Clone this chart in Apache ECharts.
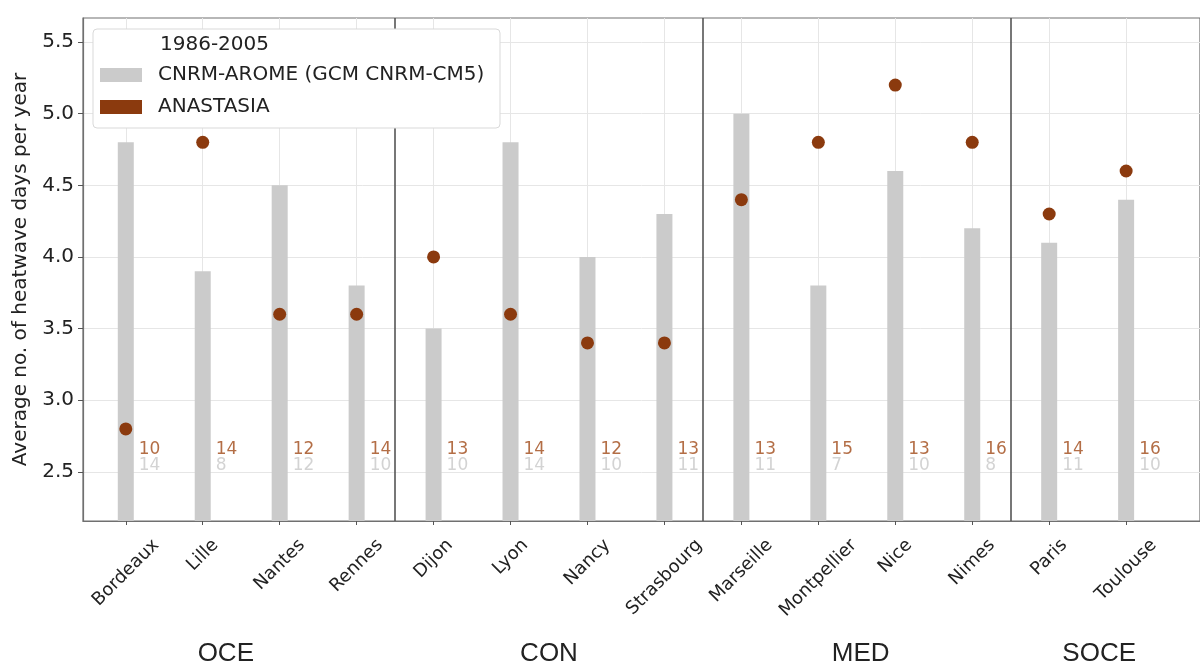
<!DOCTYPE html>
<html>
<head>
<meta charset="utf-8">
<script src="https://cdn.jsdelivr.net/npm/echarts@6/dist/echarts.min.js"></script>
<style>
html,body{margin:0;padding:0;background:#fff;}
#chart{width:1200px;height:668px;}
</style>
</head>
<body>
<div id="chart"></div>
<script>
// ---- data ----
const cities = ['Bordeaux','Lille','Nantes','Rennes','Dijon','Lyon','Nancy','Strasbourg','Marseille','Montpellier','Nice','Nimes','Paris','Toulouse'];
const cnrmValues = [4.8, 3.9, 4.5, 3.8, 3.5, 4.8, 4.0, 4.3, 5.0, 3.8, 4.6, 4.2, 4.1, 4.4];
const anastasiaValues = [2.8, 4.8, 3.6, 3.6, 4.0, 3.6, 3.4, 3.4, 4.4, 4.8, 5.2, 4.8, 4.3, 4.6];
const anastasiaCounts = [10, 14, 12, 14, 13, 14, 12, 13, 13, 15, 13, 16, 14, 16];
const cnrmCounts = [14, 8, 12, 10, 10, 14, 10, 11, 11, 7, 10, 8, 11, 10];
const groups = ['OCE', 'CON', 'MED', 'SOCE'];
const groupSizes = [4, 4, 4, 2];
const groupLabelPos = [1.3, 5.5, 9.55, 12.65];
const yTicks = [2.5, 3.0, 3.5, 4.0, 4.5, 5.0, 5.5];
const legendTitle = '1986-2005';
const nameCnrm = 'CNRM-AROME (GCM CNRM-CM5)';
const nameAna = 'ANASTASIA';
const yTitle = 'Average no. of heatwave days per year';

// ---- layout constants ----
const Y_MIN = 2.157, Y_MAX = 5.668;
const X_MIN = -0.556, X_MAX = 13.96;
const FONT = '"DejaVu Sans", sans-serif';
const BROWN = '#8b3a0e';
const GRAY = '#cbcbcb';

const idx = cities.map((c, i) => i);
const separators = [];
{ let acc = 0; for (let g = 0; g < groupSizes.length - 1; g++) { acc += groupSizes[g]; separators.push(acc - 0.5); } }

const mctx = document.createElement('canvas').getContext('2d');
function measure(t, font) { mctx.font = font; return mctx.measureText(t).width; }
const XL_SIZE = 18;
const XL_FONT = XL_SIZE + 'px "DejaVu Sans"';

const chart = echarts.init(document.getElementById('chart'), null, {renderer: 'canvas'});
chart.setOption({
  animation: false,
  backgroundColor: '#fff',
  grid: {left: 83, top: 18, right: -4, bottom: 147, show: true, borderColor: '#707070', borderWidth: 1.2},
  xAxis: {
    type: 'value', min: X_MIN, max: X_MAX,
    axisLine: {show: true, onZero: false, lineStyle: {color: '#707070', width: 1.2}},
    axisTick: {show: true, length: 4, customValues: idx, lineStyle: {color: '#555'}},
    axisLabel: {show: false, customValues: idx},
    splitLine: {show: true, lineStyle: {color: '#e6e6e6', width: 1}}
  },
  yAxis: {
    type: 'value', min: Y_MIN, max: Y_MAX,
    name: yTitle, nameLocation: 'middle', nameGap: 42,
    nameTextStyle: {fontFamily: FONT, fontSize: 20, color: '#222'},
    axisLine: {show: true, onZero: false, lineStyle: {color: '#707070', width: 1.2}},
    axisTick: {show: true, length: 5, customValues: yTicks, lineStyle: {color: '#555'}},
    axisLabel: {customValues: yTicks, fontFamily: FONT, fontSize: 20, color: '#222', margin: 9,
      formatter: v => v.toFixed(1)},
    splitLine: {show: true, lineStyle: {color: '#e6e6e6', width: 1}}
  },
  legend: {
    orient: 'vertical', left: 100, top: 65, padding: 0, itemGap: 12,
    itemWidth: 42, itemHeight: 14, z: 10,
    textStyle: {fontFamily: FONT, fontSize: 20, color: '#222', padding: [0, 0, 0, 11]},
    data: [{name: nameCnrm, icon: 'rect'}, {name: nameAna, icon: 'rect'}]
  },
  graphic: [
    {type: 'rect', z: 8, shape: {x: 93, y: 29, width: 407, height: 99, r: 4},
     style: {fill: '#fff', stroke: '#d9d9d9', lineWidth: 1}},
    {type: 'text', z: 9, x: 160, y: 45,
     style: {text: legendTitle, font: '20px ' + FONT, fill: '#222', align: 'left', verticalAlign: 'middle'}}
  ],
  series: [
    {
      name: nameCnrm, type: 'bar', barWidth: 16,
      itemStyle: {color: GRAY},
      data: cnrmValues.map((v, i) => [i, v]),
      markLine: {
        silent: true, symbol: 'none', label: {show: false},
        lineStyle: {color: '#555', width: 1.6, type: 'solid'},
        data: separators.map(s => ({xAxis: s}))
      },
      z: 2
    },
    {
      name: nameAna, type: 'scatter', symbolSize: 13,
      itemStyle: {color: BROWN, opacity: 1},
      data: anastasiaValues.map((v, i) => [i, v]),
      z: 4
    },
    {
      type: 'scatter', symbolSize: 0, silent: true, z: 5,
      data: anastasiaCounts.map((c, i) => [i, 2.654, c]),
      label: {show: true, position: 'right', distance: 13, formatter: p => p.value[2],
        fontFamily: FONT, fontSize: 17, color: '#a04a18'}
    },
    {
      type: 'scatter', symbolSize: 0, silent: true, z: 5,
      data: cnrmCounts.map((c, i) => [i, 2.545, c]),
      label: {show: true, position: 'right', distance: 13, formatter: p => p.value[2],
        fontFamily: FONT, fontSize: 17, color: '#c8c8c8'}
    },
    {
      type: 'custom', silent: true, clip: false, z: 6,
      data: cities.map((c, i) => [i, Y_MIN]),
      renderItem: (params, api) => {
        const i = api.value(0);
        const p = api.coord([i, Y_MIN]);
        const name = cities[i];
        const L = measure(name, XL_FONT);
        const h = XL_SIZE * 1.164;
        const cy = p[1] + 14 + (L + h) / (2 * Math.SQRT2);
        return {type: 'text', x: p[0], y: cy, rotation: Math.PI / 4,
          style: {text: name, font: XL_FONT, fill: '#222', align: 'center', verticalAlign: 'middle'}};
      }
    },
    {
      type: 'custom', silent: true, clip: false, z: 6,
      data: groupLabelPos.map((g, i) => [g, Y_MIN, i]),
      renderItem: (params, api) => {
        const p = api.coord([api.value(0), Y_MIN]);
        return {type: 'text', x: p[0], y: p[1] + 133,
          style: {text: groups[api.value(2)], font: '26px "Liberation Sans"', fill: '#222', align: 'center', verticalAlign: 'middle'}};
      }
    }
  ]
});
</script>
</body>
</html>
